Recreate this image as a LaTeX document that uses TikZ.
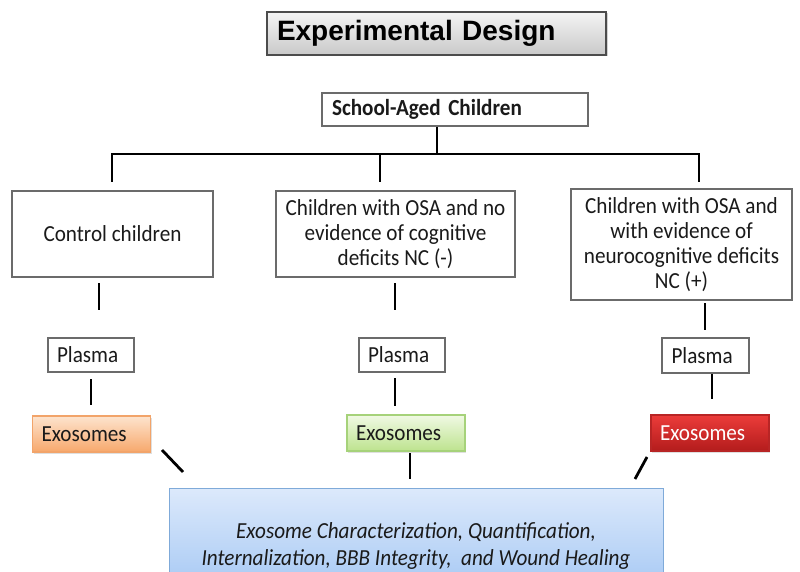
\documentclass[tikz,border=0pt]{standalone}
\usepackage{fontspec}
\setmainfont{Carlito}[FakeStretch=0.92]
\newfontfamily\arialfont{Liberation Sans}
\usetikzlibrary{shadows}
\definecolor{txt}{HTML}{1A1A1A}
\definecolor{bord}{HTML}{6B6B6B}
\definecolor{orT}{HTML}{FDE4CE}
\definecolor{orB}{HTML}{F7A86C}
\definecolor{orD}{HTML}{F2A46A}
\definecolor{grT}{HTML}{F0F9E4}
\definecolor{grB}{HTML}{BDE38E}
\definecolor{grD}{HTML}{A6D27A}
\definecolor{rdT}{HTML}{EC3C3A}
\definecolor{rdB}{HTML}{B31C1C}
\definecolor{rdD}{HTML}{B82525}
\definecolor{blT}{HTML}{DCE9FB}
\definecolor{blB}{HTML}{9FC4F3}
\definecolor{blD}{HTML}{7FAAD9}
\definecolor{ttT}{HTML}{F4F4F4}
\definecolor{ttB}{HTML}{C9C9C9}
\tikzset{
  box/.style={draw=bord, line width=1.1pt, fill=white, inner sep=0pt, text=txt,
    font=\fontsize{23}{25}\selectfont, align=center},
  conn/.style={line width=2.8pt, black},
  exo/.style={box, minimum width=118pt, minimum height=36pt, align=left, text width=100pt, inner xsep=9pt,
    drop shadow={shadow xshift=1pt, shadow yshift=-1.5pt, opacity=0.25}},
  plasma/.style={box, minimum width=86pt, minimum height=34pt, text width=68pt, inner xsep=9pt, align=left},
}
\begin{document}
\begin{tikzpicture}[x=1pt,y=-1pt]
\useasboundingbox (0,0) rectangle (800,572);
\fill[white] (0,0) rectangle (800,572);
% title
\node[draw=black!70, line width=1.5pt, top color=ttT, bottom color=ttB,
  drop shadow={shadow xshift=1.5pt, shadow yshift=-1.5pt, opacity=0.35},
  text width=319pt, inner xsep=10pt, inner ysep=0pt, minimum height=43pt, align=left,
  font=\arialfont\bfseries\fontsize{28}{32}\selectfont] (title) at (436.5,33.5) {Experimental Design};
% top
\node[box, text width=246pt, inner xsep=10pt, minimum height=33pt, align=left,
  font=\bfseries\fontsize{23}{25}\selectfont] (school) at (455,109.5) {School-Aged Children};
% groups
\node[box, minimum width=201pt, minimum height=86pt] (ctrl) at (112.5,234) {Control children};
\node[box, minimum width=239pt, minimum height=86pt] (neg) at (395.5,234)
  {Children with OSA and no\\evidence of cognitive\\deficits NC (-)};
\node[box, minimum width=221pt, minimum height=111pt] (pos) at (681.5,244.5)
  {Children with OSA and\\with evidence of\\neurocognitive deficits\\NC (+)};
% plasma
\node[plasma] (plL) at (91,355) {Plasma};
\node[plasma] (plM) at (402,355) {Plasma};
\node[plasma, minimum width=87pt, minimum height=35pt] (plR) at (705.5,355.5) {Plasma};
% exosomes
\node[exo, draw=orD, top color=orT, bottom color=orB] (exL) at (91.5,434) {Exosomes};
\node[exo, draw=grD, top color=grT, bottom color=grB] (exM) at (406,433) {Exosomes};
\node[exo, draw=rdD, top color=rdT, bottom color=rdB, text=white] (exR) at (710,433) {Exosomes};
% bottom
\node[box, draw=blD, line width=1pt, top color=blT, bottom color=blB,
  minimum width=494pt, minimum height=115pt,
  font=\itshape\fontsize{23}{27}\selectfont] (res) at (416,546)
  {Exosome Characterization, Quantification,\\Internalization, BBB Integrity,\ \ and Wound Healing};
% connector coordinates
\coordinate (bar) at (437,154);
\coordinate (bL) at (112,182);
\coordinate (bM) at (380,182);
\coordinate (bR) at (699,182);
\coordinate (c1a) at (99,283);  \coordinate (c1b) at (99,310);
\coordinate (c2a) at (395,283); \coordinate (c2b) at (395,310);
\coordinate (c3a) at (705,303); \coordinate (c3b) at (705,330);
\coordinate (p1a) at (91,379);  \coordinate (p1b) at (91,405);
\coordinate (p2a) at (395,378); \coordinate (p2b) at (395,406);
\coordinate (p3a) at (712,374); \coordinate (p3b) at (712,399);
\coordinate (d1a) at (162,450); \coordinate (d1b) at (183,472);
\coordinate (d2a) at (410,453); \coordinate (d2b) at (410,479);
\coordinate (d3a) at (647,457); \coordinate (d3b) at (635,479);
% connectors
\draw[conn] (school.south -| bar) -- (bar);
\draw[conn] (bL) -- (bL |- bar) -- (bR |- bar) -- (bR);
\draw[conn] (bM |- bar) -- (bM);
\draw[conn] (c1a) -- (c1b);
\draw[conn] (c2a) -- (c2b);
\draw[conn] (c3a) -- (c3b);
\draw[conn] (p1a) -- (p1b);
\draw[conn] (p2a) -- (p2b);
\draw[conn] (p3a) -- (p3b);
\draw[conn] (d1a) -- (d1b);
\draw[conn] (d2a) -- (d2b);
\draw[conn] (d3a) -- (d3b);
\end{tikzpicture}
\end{document}
